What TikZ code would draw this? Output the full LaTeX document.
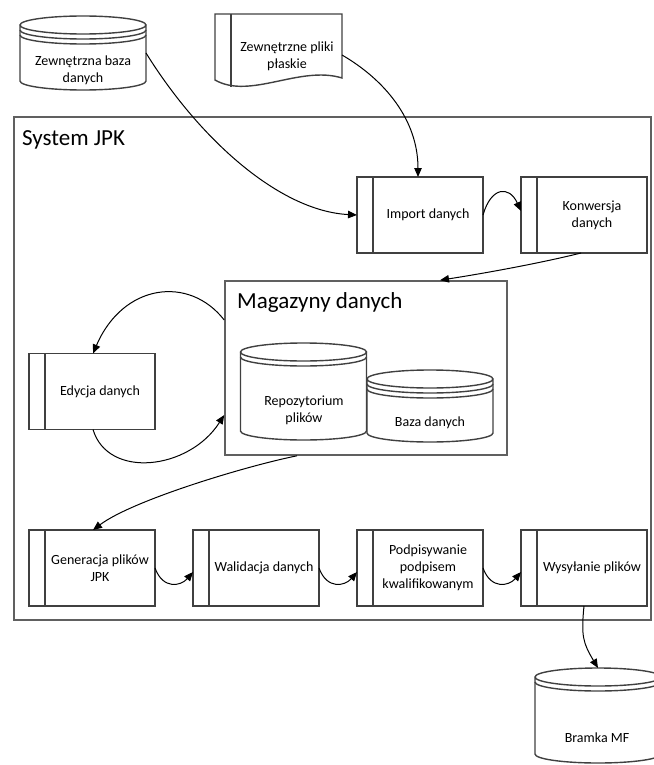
\documentclass[tikz,border=0pt]{standalone}
\usepackage{fontspec}
\setmainfont{Carlito}
\usepackage{tikz}
\usetikzlibrary{positioning}
\usetikzlibrary{arrows.meta,calc}
\definecolor{shapeline}{HTML}{404040}
\definecolor{frameline}{HTML}{606060}
\newcommand\labfont{\fontsize{14}{17}\selectfont}
\newcommand\titlefont{\fontsize{23}{28}\selectfont}
\newcommand\storeshape[2]{%
	\draw[shapeline, line width=1.4pt] let \p1=(#1.north west), \p2=(#1.south east), \n1={(\x2-\x1)/2} in
		(\x1,\y1-9pt) -- (\x1,\y2+9pt) arc[start angle=180, end angle=360, x radius=\n1, y radius=9pt]
		-- (\x2,\y1-9pt)
		(\x1+\n1,\y1-9pt) ellipse[x radius=\n1, y radius=9pt];
	\foreach \k in {1,...,#2}{
		\draw[shapeline, line width=1.4pt] let \p1=(#1.north west), \p2=(#1.south east), \n1={(\x2-\x1)/2} in
			(\x1,\y1-9pt-\k*5pt) arc[start angle=180, end angle=360, x radius=\n1, y radius=9pt];
	}
}
\tikzset{
    process/.style={draw=shapeline, line width=1.4pt, minimum width=110pt, minimum height=76pt,
		inner sep=2pt, outer sep=0pt, align=center, font=\labfont,
		append after command={\pgfextra{\draw[shapeline, line width=1.4pt, line join=miter]
			(\tikzlastnode.north west) -- ++(-16,0) |- (\tikzlastnode.south west);}}}
}
\tikzset{
    store/.style={minimum width=126pt, inner sep=0pt, outer sep=0pt,
		append after command={\pgfextra{\storeshape{\tikzlastnode}{#1}}}},
    storetext/.style={align=center, inner sep=1pt, font=\labfont}
}
\tikzset{
    sysframe/.style={draw=frameline, line width=2pt, inner sep=0pt},
    areabox/.style={draw=frameline, line width=1.6pt, inner sep=0pt},
    titletext/.style={inner sep=0pt, font=\titlefont},
    flow/.style={black, line width=1pt, -{Triangle[length=9pt,width=7.5pt]}}
}

\begin{document}
\begin{tikzpicture}[x=1pt,y=1pt]
        \useasboundingbox (0,0) rectangle (653,-765);
        % System JPK
        \node[sysframe, minimum width=637pt, minimum height=503pt] (jpk) at (332.5,-368.5) {};
        \node[titletext, anchor=base west] (jpkt) at (22,-145) {System JPK};
        \node[areabox, minimum width=282pt, minimum height=174pt] (mag) at (366,-368) {};
        \node[titletext, anchor=base west] (magt) at (237,-308) {Magazyny danych};
        % zrodla danych
        \node[store=2, minimum height=74pt] (zbd) at (83,-53) {};
        \node[storetext] (zbdt) at (83,-70) {Zewnętrzna baza\\danych};
        \draw[shapeline, line width=1.4pt] (215,-80) -- (215,-14) -- (342,-14) -- (342,-78)
			.. controls (300,-65) and (250,-100) .. cycle;
        \draw[shapeline, line width=1.4pt] (231,-14) -- (231,-87);
        \coordinate (zpp) at (342,-55);
        \node[storetext] (zppt) at (287,-56) {Zewnętrzne pliki\\płaskie};
        % procesy
        \node[process] (imp) at (428,-215) {Import danych};
        \node[process, right=54pt of imp] (kon) {Konwersja\\danych};
        \node[process] (edy) at (100,-391.5) {Edycja danych};
        \node[process] (gen) at (100,-568) {Generacja plików\\JPK};
        \node[process, right=54pt of gen] (wal) {Walidacja danych};
        \node[process, right=54pt of wal] (pod) {Podpisywanie\\podpisem\\kwalifikowanym};
        \node[process, right=54pt of pod] (wys) {Wysyłanie plików};
        % magazyny
        \node[store=1, minimum height=97pt] (rep) at (303.5,-391.5) {};
        \node[storetext] (rept) at (304,-410) {Repozytorium\\plików};
        \node[store=2, minimum height=72pt] (bd) at (430,-406) {};
        \node[storetext] (bdt) at (430,-423) {Baza danych};
        \node[store=1, minimum height=95pt] (bmf) at (598,-715.5) {};
        \node[storetext] (bmft) at (597,-738) {Bramka MF};
        % przeplyw
        \draw[flow] (zbd.east) .. controls +(54,-87) and +(-77,4) .. ([xshift=-16pt]imp.west);
        \draw[flow] (zpp) .. controls +(43,-25) and +(0,57) .. ([xshift=-10pt]imp.north);
        \draw[flow] (imp.east) .. controls +(8,28) and +(-12,26) .. ([xshift=-16pt,yshift=4pt]kon.west);
        \draw[flow] ([xshift=-11pt]kon.south) .. controls +(-40,-10) and +(45,7) .. ([xshift=74pt]mag.north);
        \draw[flow] ([yshift=48pt]mag.west) .. controls +(-35,45) and +(30,70) .. ([xshift=-7pt]edy.north);
        \draw[flow] ([xshift=-7pt]edy.south) .. controls +(15,-50) and +(-35,-55) .. ([yshift=-47pt]mag.west);
        \draw[flow] ([xshift=-69pt]mag.south) .. controls +(-50,-10) and +(40,30) .. ([xshift=-7pt]gen.north);
        \foreach \a/\b in {gen/wal, wal/pod, pod/wys}
			\draw[flow] (\a.east) .. controls +(8,-22) and +(-12,-14) .. ([xshift=-16pt,yshift=-4pt]\b.west);
        \draw[flow] ([xshift=-8pt]wys.south) .. controls +(-3,-30) and +(-15,25) .. (bmf.north);
\end{tikzpicture}
\end{document}
